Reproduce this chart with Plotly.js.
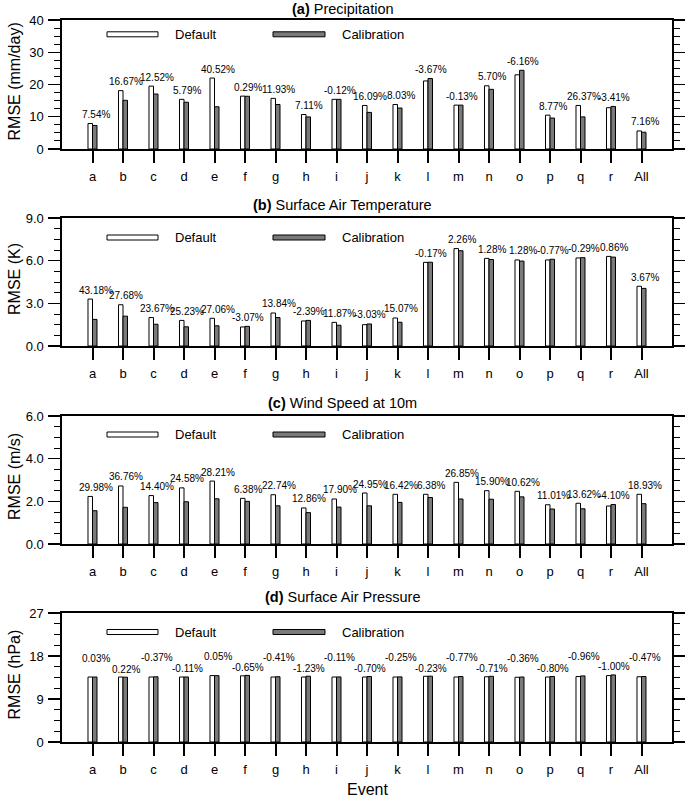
<!DOCTYPE html>
<html>
<head>
<meta charset="utf-8">
<script src="https://cdn.plot.ly/plotly-3.0.1.min.js"></script>
<style>
  html, body { margin: 0; padding: 0; background: #fff; }
  #chart { width: 685px; height: 798px; }
</style>
</head>
<body>
<div id="chart"></div>
<script>
// ---------------- data ----------------
const categories = ['a','b','c','d','e','f','g','h','i','j','k','l','m','n','o','p','q','r','All'];

const precipDefault = [7.9, 18.1, 19.5, 15.4, 22.0, 16.4, 15.7, 10.7, 15.4, 13.5, 13.8, 21.1, 13.6, 19.6, 23.0, 10.5, 13.5, 12.8, 5.6];
const precipCalib   = [7.3, 15.1, 17.05, 14.5, 13.1, 16.35, 13.8, 9.95, 15.4, 11.35, 12.7, 21.85, 13.6, 18.5, 24.4, 9.6, 9.95, 13.2, 5.2];
const precipPct     = ['7.54%','16.67%','12.52%','5.79%','40.52%','0.29%','11.93%','7.11%','-0.12%','16.09%','8.03%','-3.67%','-0.13%','5.70%','-6.16%','8.77%','26.37%','-3.41%','7.16%'];

const tempDefault = [3.3, 2.9, 2.0, 1.8, 1.95, 1.34, 2.32, 1.76, 1.66, 1.50, 1.97, 5.88, 6.85, 6.16, 6.05, 6.05, 6.19, 6.30, 4.20];
const tempCalib   = [1.87, 2.1, 1.53, 1.35, 1.42, 1.38, 2.0, 1.80, 1.46, 1.55, 1.67, 5.89, 6.70, 6.08, 5.97, 6.10, 6.21, 6.25, 4.05];
const tempPct     = ['43.18%','27.68%','23.67%','25.23%','27.06%','-3.07%','13.84%','-2.39%','11.87%','-3.03%','15.07%','-0.17%','2.26%','1.28%','1.28%','-0.77%','-0.29%','0.86%','3.67%'];

const windDefault = [2.23, 2.72, 2.27, 2.63, 2.95, 2.14, 2.31, 1.69, 2.11, 2.39, 2.33, 2.33, 2.89, 2.50, 2.47, 1.84, 1.91, 1.78, 2.33];
const windCalib   = [1.56, 1.72, 1.94, 1.98, 2.12, 2.00, 1.79, 1.47, 1.73, 1.79, 1.95, 2.18, 2.11, 2.10, 2.21, 1.64, 1.65, 1.85, 1.89];
const windPct     = ['29.98%','36.76%','14.40%','24.58%','28.21%','6.38%','22.74%','12.86%','17.90%','24.95%','16.42%','6.38%','26.85%','15.90%','10.62%','11.01%','13.62%','-4.10%','18.93%'];

const presDefault = [13.6, 13.6, 13.6, 13.6, 13.9, 13.85, 13.6, 13.6, 13.6, 13.6, 13.6, 13.75, 13.6, 13.65, 13.55, 13.6, 13.7, 13.9, 13.65];
const presCalib   = [13.6, 13.57, 13.65, 13.61, 13.89, 13.94, 13.66, 13.77, 13.62, 13.7, 13.63, 13.78, 13.7, 13.75, 13.6, 13.71, 13.83, 14.04, 13.71];
const presPct     = ['0.03%','0.22%','-0.37%','-0.11%','0.05%','-0.65%','-0.41%','-1.23%','-0.11%','-0.70%','-0.25%','-0.23%','-0.77%','-0.71%','-0.36%','-0.80%','-0.96%','-1.00%','-0.47%'];

const panelTitles = ['(a)|Precipitation', '(b)|Surface Air Temperature', '(c)|Wind Speed at 10m', '(d)|Surface Air Pressure'];
const yTitles = ['RMSE (mm/day)', 'RMSE (K)', 'RMSE (m/s)', 'RMSE (hPa)'];
const seriesNames = ['Default', 'Calibration'];
const xTitle = 'Event';

// ---------------- layout helpers ----------------
const W = 685, H = 798;
const FONT = 'Liberation Sans, Arial, Helvetica, sans-serif';
const py = p => 1 - p / H;
const px = p => p / W;

const panels = [
  {def: precipDefault, cal: precipCalib, pct: precipPct, top: 20,  bot: 149, range: [0, 40], dtick: 10, minor: 2.5,  fmt: 'd',  titleY: 9,   legY: 34.3, alt: false},
  {def: tempDefault,   cal: tempCalib,   pct: tempPct,   top: 218, bot: 346, range: [0, 9],  dtick: 3,  minor: 0.75, fmt: '.1f', titleY: 205, legY: 237.5, alt: false},
  {def: windDefault,   cal: windCalib,   pct: windPct,   top: 416, bot: 544, range: [0, 6],  dtick: 2,  minor: 0.5,  fmt: '.1f', titleY: 403, legY: 434.5, alt: false},
  {def: presDefault,   cal: presCalib,   pct: presPct,   top: 613, bot: 742, range: [0, 27], dtick: 9,  minor: 2.25, fmt: 'd',  titleY: 597, legY: 632, alt: true}
];

const xDomain = [px(62), px(672)];
const traces = [];
const annotations = [];
const shapes = [];
const layout = {
  width: W, height: H,
  margin: {l: 0, r: 0, t: 0, b: 0},
  paper_bgcolor: '#ffffff',
  plot_bgcolor: '#ffffff',
  showlegend: false,
  font: {family: FONT, color: '#000000'},
  annotations: annotations,
  shapes: shapes
};

panels.forEach((p, k) => {
  const s = k === 0 ? '' : String(k + 1);
  const xa = 'x' + s, ya = 'y' + s;

  traces.push({
    type: 'bar', name: seriesNames[0], x: categories, y: p.def,
    xaxis: xa, yaxis: ya, width: 0.148, offset: -0.148,
    marker: {color: '#ffffff', line: {color: '#000000', width: 1}},
    hoverinfo: 'x+y'
  });
  traces.push({
    type: 'bar', name: seriesNames[1], x: categories, y: p.cal,
    xaxis: xa, yaxis: ya, width: 0.148, offset: 0,
    marker: {color: '#7a7a7a', line: {color: '#000000', width: 1}},
    hoverinfo: 'x+y'
  });

  layout['xaxis' + s] = {
    domain: xDomain, anchor: ya, type: 'category', range: [-1, 19],
    showline: true, linecolor: '#000', linewidth: 1.6, mirror: true,
    ticks: 'outside', ticklen: 12, tickwidth: 2, tickcolor: '#000',
    showgrid: false, zeroline: false, automargin: false,
    tickfont: {family: FONT, size: 13, color: '#000'}, ticklabelstandoff: 3,
    fixedrange: true
  };
  layout['yaxis' + s] = {
    domain: [py(p.bot), py(p.top)], anchor: xa, range: p.range,
    tick0: 0, dtick: p.dtick, tickformat: p.fmt,
    showline: true, linecolor: '#000', linewidth: 1.6, mirror: 'ticks',
    ticks: 'outside', ticklen: 12, tickwidth: 1.4, tickcolor: '#000',
    minor: {ticks: 'outside', dtick: p.minor, tick0: 0, ticklen: 6, tickwidth: 1, tickcolor: '#000', showgrid: false},
    showgrid: false, zeroline: false, automargin: false,
    tickfont: {family: FONT, size: 13, color: '#000'}, ticklabelstandoff: 2,
    fixedrange: true
  };

  // panel title
  const parts = panelTitles[k].split('|');
  annotations.push({
    xref: 'paper', yref: 'paper', x: 0.5, y: py(p.titleY), xanchor: 'center', yanchor: 'middle',
    text: '<b>' + parts[0] + '</b> ' + parts[1], showarrow: false,
    font: {family: FONT, size: 14.5, color: '#000'}
  });
  // y-axis title
  annotations.push({
    xref: 'paper', yref: 'paper', x: px(14), y: py((p.top + p.bot) / 2 - 3), xanchor: 'center', yanchor: 'middle',
    text: yTitles[k], textangle: -90, showarrow: false,
    font: {family: FONT, size: 16, color: '#000'}
  });
  // percentage labels
  p.pct.forEach((t, i) => {
    let shift = 9;
    if (p.alt) shift = (i % 2 === 0) ? 19 : 8;
    annotations.push({
      xref: xa, yref: ya, x: categories[i], y: Math.max(p.def[i], p.cal[i]),
      xanchor: 'center', yanchor: 'middle', xshift: 3, yshift: shift,
      text: t, showarrow: false,
      font: {family: FONT, size: 10, color: '#000'}
    });
  });
  // legend (drawn inside plot)
  const ly = 1 - (p.legY - p.top) / (p.bot - p.top);
  const hh = 2.5 / (p.bot - p.top);
  const dx = v => (v - 62) / 610;
  shapes.push({type: 'rect', xref: xa + ' domain', yref: ya + ' domain', x0: dx(107), x1: dx(158), y0: ly - hh, y1: ly + hh,
    fillcolor: '#ffffff', line: {color: '#000', width: 1}});
  shapes.push({type: 'rect', xref: xa + ' domain', yref: ya + ' domain', x0: dx(273), x1: dx(325), y0: ly - hh, y1: ly + hh,
    fillcolor: '#7a7a7a', line: {color: '#000', width: 1}});
  annotations.push({xref: xa + ' domain', yref: ya + ' domain', x: dx(173), y: ly, xanchor: 'left', yanchor: 'middle',
    text: seriesNames[0], showarrow: false, font: {family: FONT, size: 13, color: '#000'}});
  annotations.push({xref: xa + ' domain', yref: ya + ' domain', x: dx(340), y: ly, xanchor: 'left', yanchor: 'middle',
    text: seriesNames[1], showarrow: false, font: {family: FONT, size: 13, color: '#000'}});
});

// x title
annotations.push({
  xref: 'paper', yref: 'paper', x: px(367), y: py(789), xanchor: 'center', yanchor: 'middle',
  text: xTitle, showarrow: false, font: {family: FONT, size: 16, color: '#000'}
});

Plotly.newPlot('chart', traces, layout, {displayModeBar: false, staticPlot: true});
</script>
</body>
</html>
